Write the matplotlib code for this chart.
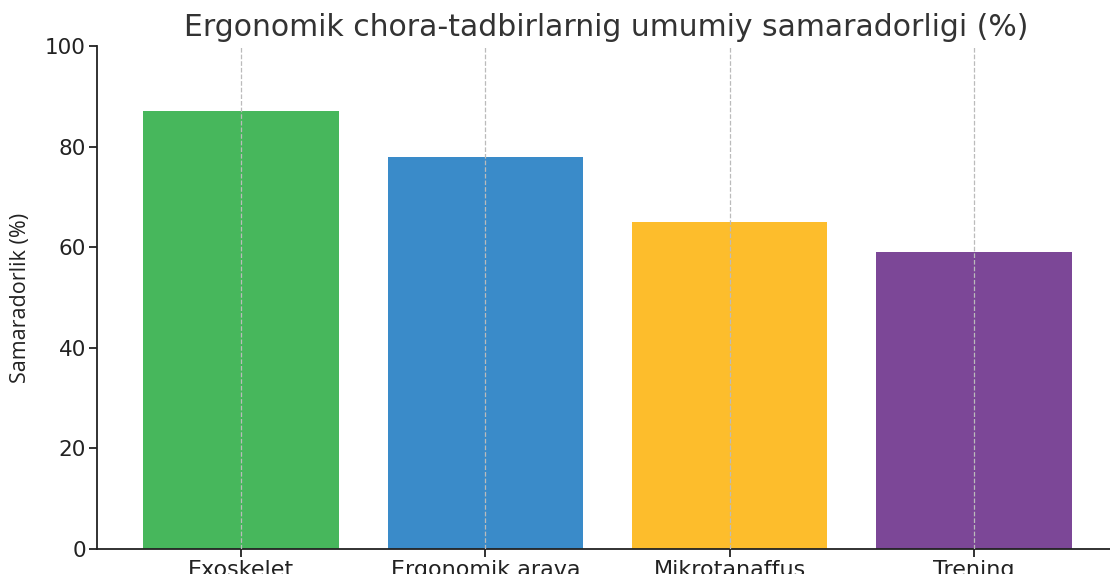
import matplotlib
matplotlib.use("Agg")
import matplotlib.pyplot as plt

plt.rcParams["font.family"] = ["DejaVu Sans"]

categories = ["Exoskelet", "Ergonomik arava", "Mikrotanaffus", "Trening"]
values = [87, 78, 65, 59]
colors = ["#47b75c", "#3a8bc9", "#fdbd2c", "#7c4797"]
yticks = [0, 20, 40, 60, 80, 100]

fig = plt.figure(figsize=(11.10, 5.74), dpi=100)
ax = fig.add_axes([97/1110, 25/574, (1118-97)/1110, 503/574])
x = list(range(len(categories)))
ax.bar(x, values, width=0.8, color=colors, zorder=2)
ax.set_xlim(-0.59, 3.59)
ax.set_ylim(0, 100)
ax.set_xticks(x)
ax.set_xticklabels(categories, fontsize=16, color="#222222")
ax.set_yticks(yticks)
ax.set_yticklabels([str(v) for v in yticks], fontsize=15.5, color="#222222")
ax.xaxis.grid(True, linestyle="--", color="#bbbbbb", linewidth=0.9, zorder=3)
ax.set_axisbelow(False)
for s in ["top", "right"]:
    ax.spines[s].set_visible(False)
for s in ["left", "bottom"]:
    ax.spines[s].set_color("#222222")
    ax.spines[s].set_linewidth(1.3)
ax.tick_params(axis="both", length=6, width=1.3, color="#222222", pad=2)
ax.set_ylabel("Samaradorlik (%)", fontsize=15.5, family=["Open Sans", "DejaVu Sans"], color="#222222")
ax.yaxis.set_label_coords(-66/1021, 0.5)
fig.text(606/1110, 1 - 27/574, "Ergonomik chora-tadbirlarnig umumiy samaradorligi (%)",
         ha="center", va="center", fontsize=21.5, color="#333333")
fig.savefig("out.png", dpi=100)
